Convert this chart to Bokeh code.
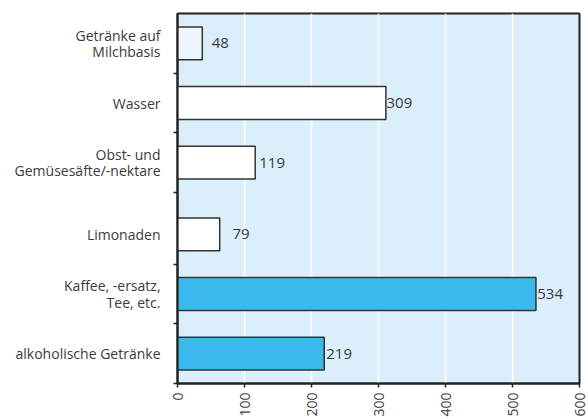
import math
from bokeh.plotting import figure
from bokeh.models import FixedTicker, Range1d, ColumnDataSource
from bokeh.embed import file_html
from bokeh.resources import INLINE
from bokeh.core.properties import value

# ---- data ----
categories = [
    "Getränke auf\nMilchbasis",
    "Wasser",
    "Obst- und\nGemüsesäfte/-nektare",
    "Limonaden",
    "Kaffee, -ersatz,\nTee, etc.",
    "alkoholische Getränke",
]
groups = [0, 0, 0, 1, 1, 1]
bar_values = [37, 311, 116, 63, 535, 219]
label_values = [48, 309, 119, 79, 534, 219]
value_labels = ["48", "309", "119", "79", "534", "219"]
x_ticks = [0, 100, 200, 300, 400, 500, 600]
bar_colors = ["#edf5fd", "#ffffff", "#ffffff", "#ffffff", "#3cb9ec", "#3cb9ec"]

# ---- layout of the categorical positions (two groups with a small gap) ----
n = len(categories)
gap = 0.2
top_group = max(groups)
ypos = [(n - 1 - i) + 0.5 + gap * (top_group - g) for i, g in enumerate(groups)]

src = ColumnDataSource(dict(
    y=ypos, v=bar_values, lv=label_values, lab=value_labels, c=bar_colors,
))

FONT = "Open Sans"
TXT = "#3a3a3a"

p = figure(
    width=588, height=419,
    x_range=Range1d(0, 600), y_range=Range1d(0, n + gap),
    output_backend="svg", toolbar_location=None,
    min_border_left=177, min_border_top=13, min_border_right=9, min_border_bottom=34,
)
p.background_fill_color = "#dbeefb"
p.border_fill_color = "white"
p.outline_line_color = "#222222"
p.outline_line_width = 2

p.hbar(y="y", left=0, right="v", height=0.55, source=src,
       fill_color="c", line_color="#333333", line_width=1.5)

p.text(x="lv", y="y", text="lab", source=src, x_offset=2,
       text_baseline="middle", text_align="left",
       text_font=value(FONT), text_font_size="15px", text_color=TXT)

# grids
p.ygrid.visible = False
p.xgrid.ticker = FixedTicker(ticks=x_ticks)
p.xgrid.grid_line_color = "white"
p.xgrid.grid_line_width = 1.5

# x axis
p.xaxis.ticker = FixedTicker(ticks=x_ticks)
p.xaxis.major_label_orientation = math.pi / 2
p.xaxis.major_label_text_font = FONT
p.xaxis.major_label_text_font_size = "14px"
p.xaxis.major_label_text_color = TXT
p.xaxis.major_tick_out = 4
p.xaxis.major_tick_in = 0
p.xaxis.minor_tick_line_color = None
p.xaxis.axis_line_color = "#222222"
p.xaxis.axis_line_width = 2
p.xaxis.major_tick_line_color = "#222222"
p.xaxis.major_tick_line_width = 1.5
p.xaxis.major_label_standoff = 5

# y axis: labels at bar centres, small ticks at band boundaries
boundaries = [y - 0.5 for y in ypos]
p.yaxis.ticker = FixedTicker(ticks=ypos, minor_ticks=boundaries)
p.yaxis.major_label_overrides = {y: c for y, c in zip(ypos, categories)}
p.yaxis.major_label_orientation = 0.0
p.yaxis.major_label_text_align = "right"
p.yaxis.major_label_text_line_height = 0.85
p.yaxis.major_tick_out = 0
p.yaxis.major_tick_in = 0
p.yaxis.minor_tick_out = 4
p.yaxis.minor_tick_in = 0
p.yaxis.minor_tick_line_color = "#222222"
p.yaxis.minor_tick_line_width = 1.5
p.yaxis.major_label_standoff = 13
p.yaxis.major_label_text_font = FONT
p.yaxis.major_label_text_font_size = "14px"
p.yaxis.major_label_text_color = TXT
p.yaxis.axis_line_color = "#222222"
p.yaxis.axis_line_width = 2

open("out.html", "w").write(file_html(p, INLINE))
